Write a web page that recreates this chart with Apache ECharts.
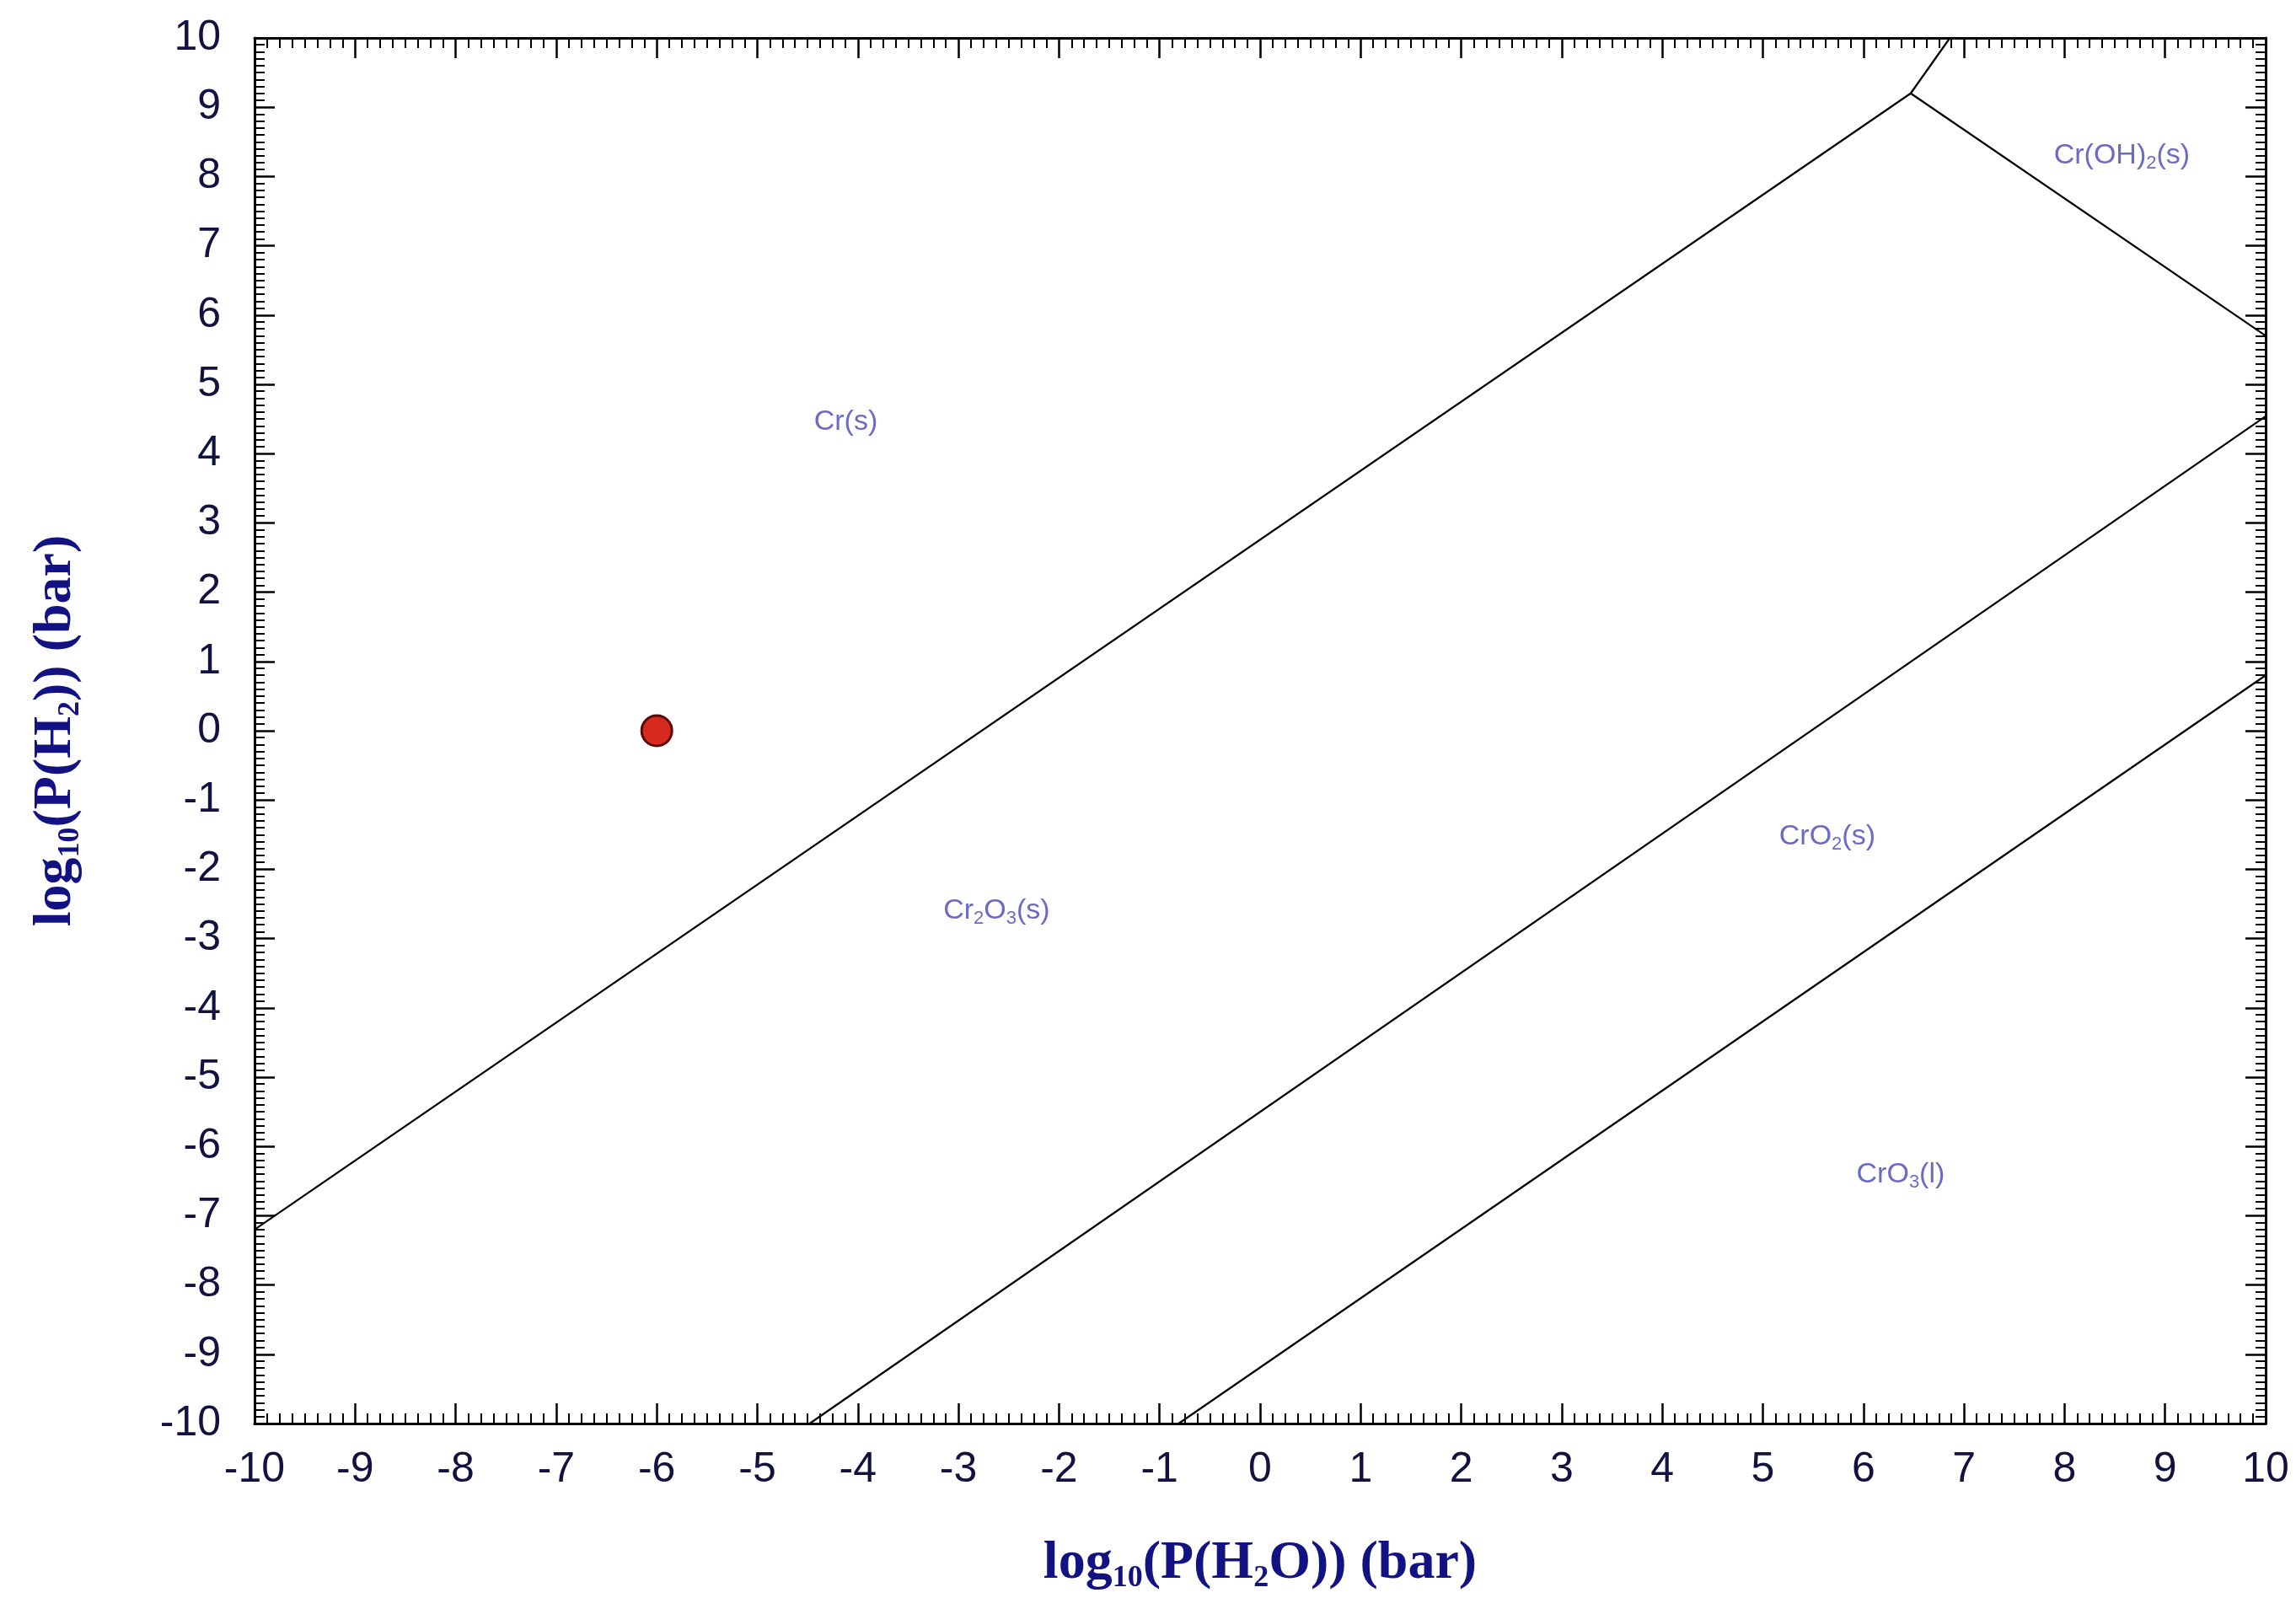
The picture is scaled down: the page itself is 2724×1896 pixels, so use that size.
<!DOCTYPE html>
<html>
<head>
<meta charset="utf-8">
<script src="https://cdn.jsdelivr.net/npm/echarts@6/dist/echarts.min.js"></script>
<style>
html,body{margin:0;padding:0;background:#fff;}
#chart{width:2724px;height:1896px;}
</style>
</head>
<body>
<div id="chart"></div>
<script>
// Axis ranges / ticks
const xMin = -10, xMax = 10, yMin = -10, yMax = 10;

// Phase boundary lines [log10 P(H2O), log10 P(H2)]
const crCr2o3 = [[-10, -7.2], [6.47, 9.2]];
const crCroh2 = [[6.47, 9.2], [6.86, 10]];
const cr2o3Croh2 = [[6.47, 9.2], [10, 5.7]];
const cr2o3Cro2 = [[-4.48, -10], [10, 4.54]];
const cro2Cro3 = [[-0.81, -10], [10, 0.8]];

// Condition point
const point = [[-6, 0]];

// Region labels
const regionNames = ['Cr(s)', 'Cr{sub|2}O{sub|3}(s)', 'CrO{sub|2}(s)', 'CrO{sub|3}(l)', 'Cr(OH){sub|2}(s)'];
const regionX = [-4.12, -2.62, 5.64, 6.37, 8.57];
const regionY = [4.46, -2.6, -1.53, -6.41, 8.30];

const chart = echarts.init(document.getElementById('chart'), null, {renderer: 'canvas'});

const tickColor = '#000';
const labelColor = '#121240';
const titleColor = '#121282';

function axisCommon(showLabel, minorSplit) {
  return {
    type: 'value',
    min: xMin, max: xMax, interval: 1,
    axisLine: {show: true, onZero: false, lineStyle: {color: '#000', width: 3}},
    axisTick: {show: true, inside: true, length: 24, lineStyle: {color: tickColor, width: 2.5}},
    minorTick: {show: true, splitNumber: minorSplit, length: 12, lineStyle: {color: tickColor, width: 2}},
    splitLine: {show: false},
    minorSplitLine: {show: false},
    axisLabel: {show: showLabel, color: labelColor, fontFamily: 'Liberation Sans', fontSize: 50}
  };
}

const titleStyle = {
  color: titleColor, fontFamily: 'Liberation Serif', fontWeight: 'bold', fontSize: 64, lineHeight: 72,
  rich: {sub: {color: titleColor, fontFamily: 'Liberation Serif', fontWeight: 'bold', fontSize: 36, lineHeight: 34, verticalAlign: 'bottom'}}
};

const xBottom = axisCommon(true, 8);
xBottom.position = 'bottom';
xBottom.axisLabel.margin = 30;
xBottom.name = 'log{sub|10}(P(H{sub|2}O)) (bar)';
xBottom.nameLocation = 'middle';
xBottom.nameGap = 130;
xBottom.nameTextStyle = titleStyle;
const xTop = axisCommon(false, 8);
xTop.position = 'top';

const yLeft = axisCommon(true, 10);
yLeft.min = yMin; yLeft.max = yMax;
yLeft.position = 'left';
yLeft.axisLabel.margin = 40;
yLeft.name = 'log{sub|10}(P(H{sub|2})) (bar)';
yLeft.nameLocation = 'middle';
yLeft.nameRotate = 90;
yLeft.nameGap = 200;
yLeft.nameTextStyle = titleStyle;
const yRight = axisCommon(false, 10);
yRight.min = yMin; yRight.max = yMax;
yRight.position = 'right';

function boundary(data) {
  return {
    type: 'line', xAxisIndex: 0, yAxisIndex: 0, data: data,
    symbol: 'none', clip: true, silent: true,
    lineStyle: {color: '#000', width: 2.2}
  };
}

const labelData = regionNames.map((n, i) => ({value: [regionX[i], regionY[i]], name: n}));

chart.setOption({
  animation: false,
  backgroundColor: '#fff',
  grid: {left: 302, top: 45, right: 36, bottom: 203, containLabel: false},
  xAxis: [xBottom, xTop],
  yAxis: [yLeft, yRight],
  series: [
    boundary(crCr2o3),
    boundary(crCroh2),
    boundary(cr2o3Croh2),
    boundary(cr2o3Cro2),
    boundary(cro2Cro3),
    {
      type: 'scatter', data: labelData, symbolSize: 0, silent: true,
      label: {
        show: true, position: 'inside',
        formatter: p => p.name,
        color: '#4646b8', fontFamily: 'Liberation Sans', fontSize: 34, lineHeight: 40,
        rich: {sub: {color: '#4646b8', fontFamily: 'Liberation Sans', fontSize: 22, lineHeight: 20, verticalAlign: 'bottom'}}
      }
    },
    {
      type: 'scatter', data: point, symbol: 'circle', symbolSize: 36, silent: true,
      itemStyle: {color: '#d62a1e', borderColor: '#5a0808', borderWidth: 3, opacity: 1}
    }
  ]
});
</script>
</body>
</html>
